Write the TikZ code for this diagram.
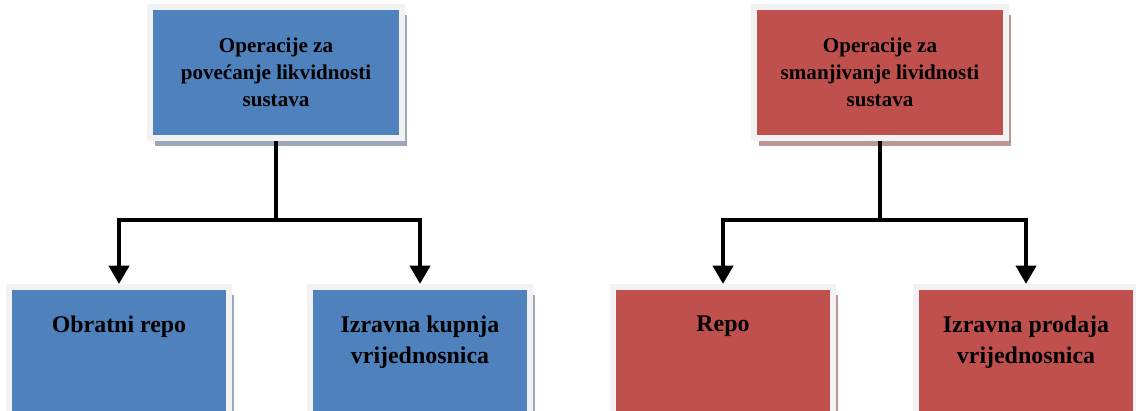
\documentclass[tikz,border=0pt]{standalone}
\usepackage{fontspec}
\setmainfont{Liberation Serif}
\usepackage{tikz}
\usetikzlibrary{arrows.meta,positioning,calc,shadows}

\definecolor{plavo}{HTML}{4F81BD}
\definecolor{crveno}{HTML}{C0504D}
\definecolor{rub}{HTML}{F2F2F2}
\definecolor{sjenaP}{HTML}{9DA7BA}
\definecolor{sjenaC}{HTML}{BC9595}

\begin{document}
\begin{tikzpicture}[x=0.025cm, y=-0.025cm,
    kutija/.style={draw=rub, line width=4.27pt, inner sep=0pt, align=center},
    gornja/.style={kutija, minimum width=6.3cm, minimum height=3.275cm, font=\bfseries\fontsize{15}{19.2}\selectfont},
    donja/.style={kutija, minimum width=5.475cm, minimum height=3.275cm},
    sjena/.style={drop shadow={shadow xshift=0.125cm, shadow yshift=-0.2cm, fill=#1, opacity=1}},
    tekst/.style={inner sep=0pt, align=center, font=\bfseries\fontsize{17}{22}\selectfont},
    veza/.style={line width=3.5pt},
    strelica/.style={veza, -{Triangle[width=14pt,length=13pt]}}]
    \useasboundingbox (0,0) rectangle (1136,410);
    % gornje kutije
    \node[gornja, fill=plavo, sjena=sjenaP] (gL) at (276,72.5) {Operacije za\\povećanje likvidnosti\\sustava};
    \node[gornja, fill=crveno, sjena=sjenaC] (gD) at (880,72.5) {Operacije za\\smanjivanje lividnosti\\sustava};
    % donje kutije
    \foreach \x/\ime/\boja/\sj in {119/dL1/plavo/sjenaP, 420/dL2/plavo/sjenaP, 723/dD1/crveno/sjenaC, 1026/dD2/crveno/sjenaC}{
      \node[donja, fill=\boja, sjena=\sj] (\ime) at (\x,352.5) {};
    }
    \node[tekst, below=0.8cm of dL1.north] (tL1) {Obratni repo};
    \node[tekst, below=0.8cm of dL2.north] (tL2) {Izravna kupnja\\vrijednosnica};
    \node[tekst, below=0.8cm of dD1.north] (tD1) {Repo};
    \node[tekst, below=0.8cm of dD2.north] (tD2) {Izravna prodaja\\vrijednosnica};
    % veze
    \draw[veza] (gL.south) -- ++(0,79) coordinate (cL);
    \draw[strelica] (cL) -| (dL1.north);
    \draw[strelica] (cL) -| (dL2.north);
    \draw[veza] (gD.south) -- ++(0,79) coordinate (cD);
    \draw[strelica] (cD) -| (dD1.north);
    \draw[strelica] (cD) -| (dD2.north);
\end{tikzpicture}
\end{document}
